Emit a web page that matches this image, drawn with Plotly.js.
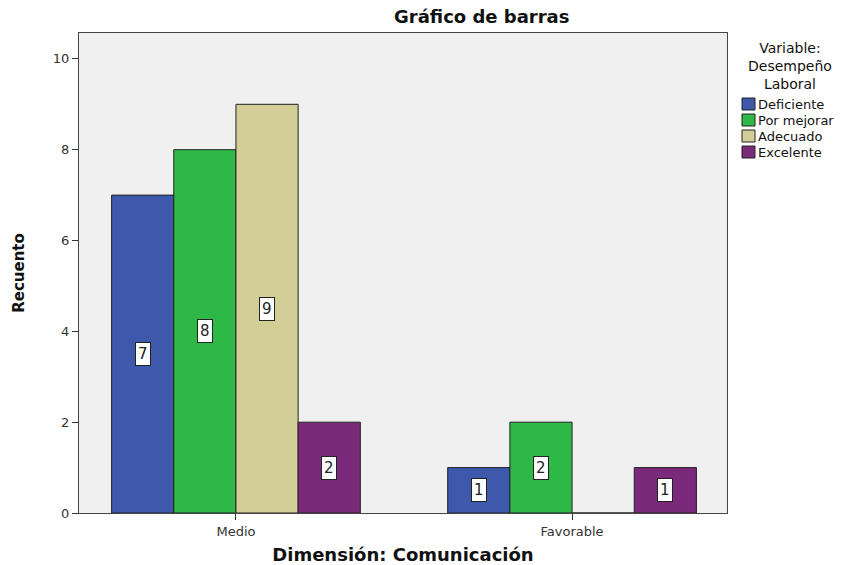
<!DOCTYPE html>
<html><head><meta charset="utf-8">
<script src="https://cdn.plot.ly/plotly-3.0.1.min.js"></script>
<style>body{margin:0;background:#fff}#c{width:852px;height:565px}</style>
</head><body><div id="c"></div>
<script>
var categories = ["Medio", "Favorable"];
var seriesNames = ["Deficiente", "Por mejorar", "Adecuado", "Excelente"];
var deficiente = [7, 1];
var porMejorar = [8, 2];
var adecuado = [9, 0];
var excelente = [2, 1];
var colors = ["#3E58AC", "#2EB848", "#D3CE97", "#7B2A7B"];
var yTicks = [0, 2, 4, 6, 8, 10];
var legendTitleLines = ["Variable:", "Desempeño", "Laboral"];

var FONT = "DejaVu Sans, Verdana, sans-serif";
var allValues = [deficiente, porMejorar, adecuado, excelente];
var traces = allValues.map(function (vals, i) {
  return {
    type: "bar", name: seriesNames[i], x: categories, y: vals,
    marker: {color: colors[i], line: {color: "#222", width: 1}},
    hoverinfo: "none", showlegend: false
  };
});

var plotW = 648, plotH = 480;
var barPx = 62.2;
var annotations = [];
var shapes = [];
allValues.forEach(function (vals, i) {
  vals.forEach(function (v, j) {
    if (v > 0) {
      annotations.push({
        x: categories[j], y: v / 2, xref: "x", yref: "y",
        xshift: (i - 1.5) * barPx, text: String(v), showarrow: false,
        bgcolor: "#fff", bordercolor: "#222", borderwidth: 1, borderpad: 2,
        font: {family: FONT, size: 15, color: "#222"}
      });
    }
  });
});
annotations.push({
  xref: "paper", yref: "paper", x: (481 - 79) / plotW, y: 1, yanchor: "bottom", yshift: 4,
  text: "<b>Gráfico de barras</b>", showarrow: false,
  font: {family: FONT, size: 18, color: "#111"}
});
// legend (built from the series arrays)
function px2x(px) { return (px - 79) / plotW; }
function py2y(py) { return (513 - py) / plotH; }
annotations.push({
  xref: "paper", yref: "paper", x: px2x(790), y: py2y(66), xanchor: "center", yanchor: "middle",
  text: legendTitleLines.join("<br>"), showarrow: false, align: "center", borderpad: 0,
  font: {family: FONT, size: 14, color: "#111"}
});
seriesNames.forEach(function (name, i) {
  var cy = 104 + i * 16;
  shapes.push({
    type: "rect", xref: "paper", yref: "paper",
    x0: px2x(742), x1: px2x(755), y0: py2y(cy - 6), y1: py2y(cy + 6),
    fillcolor: colors[i], line: {color: "#222", width: 1}
  });
  annotations.push({
    xref: "paper", yref: "paper", x: px2x(756), y: py2y(cy), xanchor: "left", yanchor: "middle",
    text: name, showarrow: false, font: {family: FONT, size: 13, color: "#111"}
  });
});

var layout = {
  width: 852, height: 565,
  margin: {l: 79, r: 125, t: 33, b: 52, autoexpand: false},
  paper_bgcolor: "#fff", plot_bgcolor: "#f0f0f0",
  barmode: "group", bargap: 0.26, bargroupgap: 0,
  showlegend: false,
  xaxis: {
    type: "category", range: [-0.467, 1.461],
    showline: true, linecolor: "#444", mirror: true, linewidth: 1,
    ticks: "outside", ticklen: 6, tickcolor: "#333",
    showgrid: false, zeroline: false,
    tickfont: {family: FONT, size: 13, color: "#333"},
    title: {text: "<b>Dimensión: Comunicación</b>", standoff: 12,
      font: {family: FONT, size: 18, color: "#111"}}
  },
  yaxis: {
    range: [0, 10.57], tickvals: yTicks,
    showline: true, linecolor: "#444", mirror: true, linewidth: 1,
    ticks: "outside", ticklen: 6, tickcolor: "#333",
    showgrid: false, zeroline: false,
    tickfont: {family: FONT, size: 13, color: "#333"},
    title: {text: "<b>Recuento</b>", standoff: 24,
      font: {family: FONT, size: 15, color: "#111"}}
  },
  annotations: annotations,
  shapes: shapes
};
Plotly.newPlot("c", traces, layout, {displayModeBar: false, staticPlot: true});
</script></body></html>
